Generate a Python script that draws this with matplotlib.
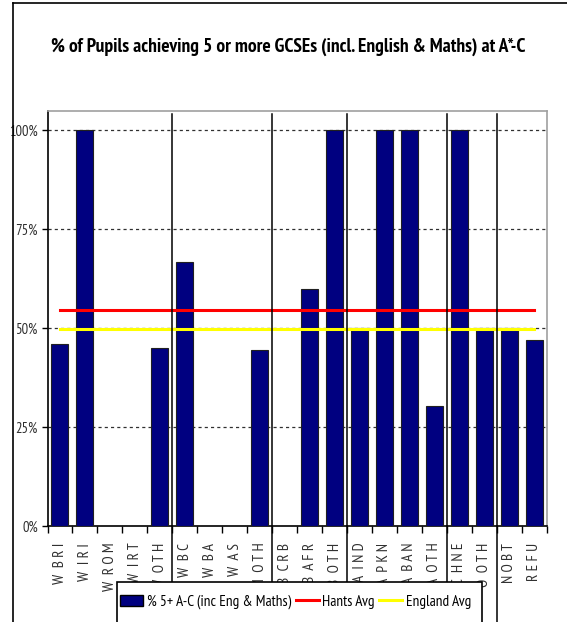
import matplotlib
matplotlib.use("Agg")
import matplotlib.pyplot as plt
from matplotlib import font_manager as fm
from matplotlib.lines import Line2D
from matplotlib.patches import Patch, Rectangle
import numpy as np

# ---- data ----
categories = ["W BRI", "W IRI", "W ROM", "W IRT", "W OTH",
              "M W BC", "M W BA", "M W AS", "M OTH",
              "B CRB", "B AFR", "B OTH",
              "A IND", "A PKN", "A BAN", "A OTH",
              "C HNE", "O OTH",
              "NOBT", "REFU"]
pct_5ac = [0.459, 1.0, 0.0, 0.0, 0.45,
           0.667, 0.0, 0.0, 0.444,
           0.0, 0.60, 1.0,
           0.50, 1.0, 1.0, 0.304,
           1.0, 0.50,
           0.50, 0.471]
hants_avg = 0.547
england_avg = 0.497
group_breaks = [5, 9, 12, 16, 18]
yticks = [0, 0.25, 0.5, 0.75, 1.0]
ytick_labels = ["0%", "25%", "50%", "75%", "100%"]
title = "% of Pupils achieving 5 or more GCSEs (incl. English & Maths) at A*-C"
legend_labels = ["% 5+ A-C (inc Eng & Maths)", "Hants Avg", "England Avg"]

# ---- font ----
fam = "DejaVu Sans"
for cand in ["Liberation Sans Narrow", "Arial Narrow", "PT Sans Narrow", "Roboto Condensed", "Archivo Narrow"]:
    try:
        fm.findfont(cand, fallback_to_default=False)
        fam = cand
        break
    except Exception:
        pass
plt.rcParams["font.family"] = [fam, "DejaVu Sans"]

W, H = 567, 622
fig = plt.figure(figsize=(W / 100, H / 100), dpi=100)
fig.patch.set_facecolor("white")

def fx(px):
    return px / W

def fy(py):
    return 1 - py / H

left, right, top, bottom = 47.5, 546.7, 110.7, 526
ax = fig.add_axes([fx(left), fy(bottom), fx(right) - fx(left), fy(top) - fy(bottom)])

x = np.arange(len(categories))
ax.bar(x, pct_5ac, width=0.68, color="#000080", edgecolor="#202020", linewidth=0.8, zorder=3)
ax.plot(x, [hants_avg] * len(x), color="#ff0000", linewidth=2.2, zorder=4)
ax.plot(x, [england_avg] * len(x), color="#ffff00", linewidth=2.2, zorder=4)

ax.set_xlim(-0.5, len(categories) - 0.5)
ax.set_ylim(0, 1.05)
ax.set_yticks(yticks)
ax.set_yticklabels(ytick_labels, fontsize=10.5, color="#303030")
for yv in yticks[1:]:
    ax.axhline(yv, color="#303030", linestyle=(0, (2.5, 2.5)), linewidth=0.9, zorder=1)

# x ticks: marks at boundaries, labels at centres
ax.set_xticks(np.arange(len(categories) + 1) - 0.5)
ax.set_xticklabels([])
ax.set_xticks(x, minor=True)
spaced = []
for c in categories:
    parts = c.split(" ")
    spaced.append("  ".join(" ".join(p) for p in parts))
ax.set_xticklabels(spaced, minor=True, rotation=90, fontsize=11, color="#303030", va="top")
ax.tick_params(axis="x", which="minor", length=0, pad=12)
ax.tick_params(axis="x", which="major", length=5, width=1, color="black", direction="out")
ax.tick_params(axis="y", length=4, width=1, color="black", direction="out", pad=3)

for s in ["left", "bottom"]:
    ax.spines[s].set_color("black")
    ax.spines[s].set_linewidth(1.2)
for s in ["top", "right"]:
    ax.spines[s].set_color("#a0a0a0")
    ax.spines[s].set_linewidth(1.2)

# group separator lines
trans = ax.get_xaxis_transform()
ytop_ax = (bottom - 114) / (bottom - top)
ybot_ax = (bottom - H - 5) / (bottom - top)
for b in group_breaks:
    ax.plot([b - 0.5, b - 0.5], [ybot_ax, ytop_ax], transform=trans, color="black",
            linewidth=1.1, clip_on=False, zorder=5)

# title
fig.text(fx(288), fy(47), title, ha="center", va="center", fontsize=14,
         fontweight="bold", color="black")

# outer frame
fig.add_artist(Line2D([fx(12.5), fx(12.5)], [fy(2.5), fy(H + 5)], color="black", linewidth=1.2))
fig.add_artist(Line2D([fx(12.5), fx(W + 5)], [fy(2.5), fy(2.5)], color="black", linewidth=1.2))

# legend box
fig.add_artist(Rectangle((fx(117), fy(H + 10)), fx(482) - fx(117), fy(582) - fy(H + 10),
                         transform=fig.transFigure, facecolor="white", edgecolor="black",
                         linewidth=1.2, zorder=10))
handles = [Patch(facecolor="#000080", edgecolor="black"),
           Line2D([0], [0], color="#ff0000", linewidth=2.2),
           Line2D([0], [0], color="#ffff00", linewidth=2.2)]
leg = fig.legend(handles, legend_labels, loc="center left",
                 bbox_to_anchor=(fx(117), fy(602)), ncol=3, frameon=False,
                 fontsize=11, handlelength=1.5, handletextpad=0.25, columnspacing=0.3,
                 borderaxespad=0, borderpad=0.2)
leg.set_zorder(11)

fig.savefig("out.png", dpi=100)
